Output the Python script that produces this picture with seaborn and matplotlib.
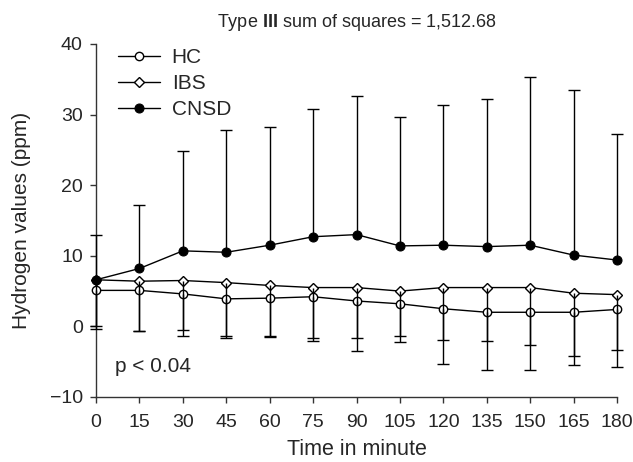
import matplotlib
matplotlib.use("Agg")
import matplotlib.pyplot as plt
import seaborn as sns

# values
times = [0, 15, 30, 45, 60, 75, 90, 105, 120, 135, 150, 165, 180]
hc_mean = [5.1, 5.1, 4.6, 3.9, 4.0, 4.2, 3.6, 3.2, 2.5, 2.0, 2.0, 2.0, 2.4]
ibs_mean = [6.6, 6.4, 6.5, 6.2, 5.8, 5.5, 5.5, 5.0, 5.5, 5.5, 5.5, 4.7, 4.5]
cnsd_mean = [6.6, 8.2, 10.7, 10.5, 11.5, 12.7, 13.0, 11.4, 11.5, 11.3, 11.5, 10.1, 9.4]

# error bar ends (one-sided)
hc_low = [0.0, -0.7, -0.5, -1.3, -1.4, -1.6, -1.6, -1.4, -1.9, -2.0, -2.7, -4.2, -3.4]
ibs_low = [-0.4, -0.6, -1.4, -1.6, -1.5, -2.0, -3.5, -2.2, -5.3, -6.2, -6.2, -5.4, -5.8]
cnsd_up = [13.0, 17.2, 24.9, 27.8, 28.2, 30.8, 32.7, 29.7, 31.4, 32.2, 35.3, 33.5, 27.3]

sns.set_style("ticks")
plt.rcParams["font.family"] = ["Liberation Sans", "DejaVu Sans"]
plt.rcParams["mathtext.fontset"] = "custom"
plt.rcParams["mathtext.rm"] = "Liberation Sans"
plt.rcParams["mathtext.bf"] = "Liberation Sans:bold"

fig = plt.figure(figsize=(6.33, 4.62), dpi=100)
ax = fig.add_axes([0.1517, 0.1407, 0.823, 0.7641])

sns.lineplot(x=times, y=hc_mean, marker="o", markersize=6, markerfacecolor="white",
             markeredgecolor="black", markeredgewidth=1, color="black", lw=1,
             label="HC", ax=ax, zorder=3)
sns.lineplot(x=times, y=ibs_mean, marker="D", markersize=5, markerfacecolor="white",
             markeredgecolor="black", markeredgewidth=1, color="black", lw=1,
             label="IBS", ax=ax, zorder=3)
sns.lineplot(x=times, y=cnsd_mean, marker="o", markersize=6.5, markerfacecolor="black",
             markeredgecolor="black", color="black", lw=1,
             label="CNSD", ax=ax, zorder=3)
for ln in ax.lines:
    ln.set_clip_on(False)

# one-sided error bars with caps
for mean, end in [(hc_mean, hc_low), (ibs_mean, ibs_low), (cnsd_mean, cnsd_up)]:
    ax.vlines(times, mean, end, color="black", lw=1, zorder=4, clip_on=False)
    ax.plot(times, end, ls="none", marker="_", markersize=8, markeredgewidth=1,
            color="black", zorder=4, clip_on=False)

ax.set_xlim(0, 180)
ax.set_ylim(-10, 40)
ax.set_xticks(times)
ax.set_yticks([-10, 0, 10, 20, 30, 40])
ax.set_yticklabels(["\u221210", "0", "10", "20", "30", "40"])
ax.tick_params(direction="out", length=4.5, width=1, color="#333333", labelsize=14)
ax.tick_params(axis="x", pad=8)
ax.tick_params(axis="y", pad=5)
for s in ["left", "bottom"]:
    ax.spines[s].set_color("#333333")
    ax.spines[s].set_linewidth(1)
sns.despine(ax=ax)

ax.set_xlabel("Time in minute", fontsize=15.5, labelpad=5.5)
ax.set_ylabel("Hydrogen values (ppm)", fontsize=15, labelpad=13.5)
ax.set_title(r"Type $\mathbf{III}$ sum of squares = 1,512.68", fontsize=13, pad=12.5)

ax.legend(loc="upper left", bbox_to_anchor=(0.042, 0.989), frameon=False, fontsize=15,
          handlelength=2.0, handletextpad=0.58, labelspacing=0.35, borderpad=0,
          borderaxespad=0)
ax.text(0.036, 0.085, "p < 0.04", transform=ax.transAxes, fontsize=15, va="center")

fig.savefig("out.png", dpi=100)
